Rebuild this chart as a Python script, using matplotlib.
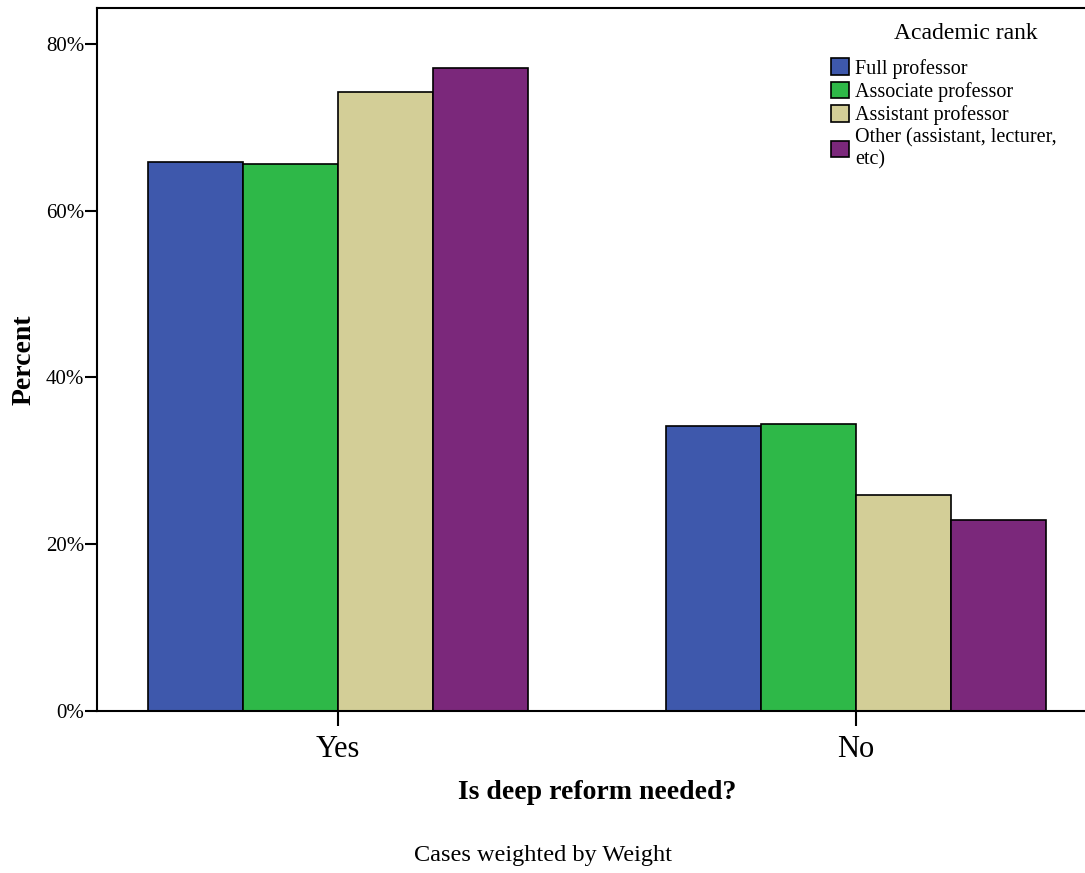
import numpy as np
import matplotlib.pyplot as plt
from matplotlib.patches import Patch

plt.rc('font', family='Liberation Serif')

categories = ["Yes", "No"]
ranks = ["Full professor", "Associate professor", "Assistant professor",
         "Other (assistant, lecturer,\netc)"]
full_prof = [65.8, 34.2]
assoc_prof = [65.6, 34.4]
assist_prof = [74.2, 25.9]
other = [77.1, 22.9]
series = [full_prof, assoc_prof, assist_prof, other]
colors = ["#3e58ac", "#2eb848", "#d3ce97", "#7b287b"]

fig = plt.figure(figsize=(10.85, 8.73), dpi=100)
ax = fig.add_axes([0.0894, 0.1856, 0.9106, 0.8052])

xrange = np.arange(len(categories))
bar_width = 0.1834
for k, vals in enumerate(series):
    ax.bar(xrange + (k - 1.5) * bar_width, vals, width=bar_width,
           color=colors[k], edgecolor="black", linewidth=1.2)

ax.set_xlim(-0.465, 1.442)
ax.set_ylim(0, 84.3)
ax.set_yticks([0, 20, 40, 60, 80])
ax.set_yticklabels(["0%", "20%", "40%", "60%", "80%"])
ax.set_xticks(xrange)
ax.set_xticklabels(categories)
ax.tick_params(axis='y', length=9, width=1.5, labelsize=15, pad=0)
ax.tick_params(axis='x', length=11, width=1.5, labelsize=22, pad=6)
ax.spines['right'].set_visible(False)
for s in ['left', 'bottom', 'top']:
    ax.spines[s].set_linewidth(1.5)

ax.set_ylabel("Percent", fontsize=20, fontweight='bold')
ax.yaxis.set_label_coords(-0.061, 0.5)
ax.set_xlabel("Is deep reform needed?", fontsize=20, fontweight='bold')
ax.xaxis.set_label_coords(0.506, -0.0976)
fig.text(0.5005, 0.0195, "Cases weighted by Weight", ha='center', va='center',
         fontsize=17.5)

ax.text(0.879, 0.964, "Academic rank", transform=ax.transAxes,
        ha='center', va='center', fontsize=17)
handles = [Patch(facecolor=c, edgecolor="black", linewidth=1.2) for c in colors]
leg = ax.legend(handles, ranks, loc="upper left",
                bbox_to_anchor=(0.735, 0.94), frameon=False, fontsize=14.5,
                handlelength=0.9, handleheight=0.9,
                handletextpad=0.3, labelspacing=0.15, borderaxespad=0)

plt.savefig('out.png', dpi=100)
